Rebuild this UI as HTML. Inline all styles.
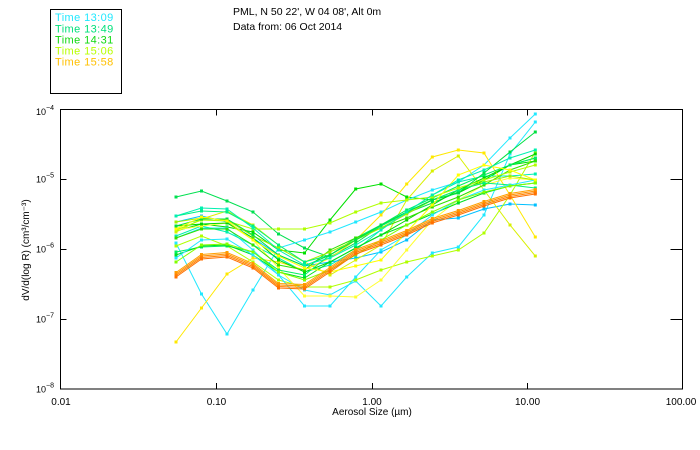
<!DOCTYPE html>
<html><head><meta charset="utf-8"><style>
html,body{margin:0;padding:0;background:#fff;}
svg{display:block;}
text{font-family:"Liberation Sans",sans-serif;}
</style></head><body>
<svg width="700" height="450" viewBox="0 0 700 450" xmlns="http://www.w3.org/2000/svg">
<rect width="700" height="450" fill="#fff"/>
<!-- legend -->
<rect x="50.5" y="9.5" width="71" height="84" fill="none" stroke="#000" stroke-width="1" shape-rendering="crispEdges"/>
<g font-size="11" letter-spacing="0.4">
<text x="55" y="21" fill="#20e8ff">Time 13:09</text>
<text x="55" y="32.3" fill="#00e07a">Time 13:49</text>
<text x="55" y="43.3" fill="#10d810">Time 14:31</text>
<text x="55" y="54.3" fill="#b8ff00">Time 15:06</text>
<text x="55" y="65.3" fill="#ffc000">Time 15:58</text>
</g>
<g font-size="10.5" fill="#000">
<text x="233" y="15">PML, N 50 22', W 04 08', Alt 0m</text>
<text x="233" y="30">Data from: 06 Oct 2014</text>
</g>
<!-- axes -->
<g stroke="#000" stroke-width="1" fill="none" shape-rendering="crispEdges">
<rect x="60.5" y="109.5" width="622" height="279.5"/>
<path d="M216.5 109.5v6M372.5 109.5v6M527.5 109.5v6M216.5 389v-6M372.5 389v-6M527.5 389v-6"/>
<path d="M60.5 179.5h6M60.5 249.5h6M60.5 319.5h6M682.5 179.5h-12M682.5 249.5h-12M682.5 319.5h-12"/>
</g>
<g font-size="10" fill="#000" text-anchor="middle">
<text x="61" y="405">0.01</text>
<text x="216.5" y="405">0.10</text>
<text x="372" y="405">1.00</text>
<text x="527.5" y="405">10.00</text>
<text x="681" y="405">100.00</text>
<text x="372" y="415">Aerosol Size (µm)</text>
</g>
<g font-size="9" fill="#000">
<text x="36" y="115">10<tspan font-size="7" dy="-5">−4</tspan></text>
<text x="36" y="182.5">10<tspan font-size="7" dy="-5">−5</tspan></text>
<text x="36" y="252.5">10<tspan font-size="7" dy="-5">−6</tspan></text>
<text x="36" y="322.5">10<tspan font-size="7" dy="-5">−7</tspan></text>
<text x="36" y="392.5">10<tspan font-size="7" dy="-5">−8</tspan></text>
</g>
<text transform="translate(29,250) rotate(-90)" font-size="10" text-anchor="middle" fill="#000">dV/d(log R) (cm³/cm⁻³)</text>
<g id="data" fill="none" stroke-width="1"></g>
</svg>
<script>
var X=[176,201.5,227,253,278.5,304.5,330,355.7,381,406.7,432.3,458.3,484,510,535.3];
var S=[
["#00e050",[197,191,201,212,234,248,257,243,226,213,203,192,180,165,158]],
["#00e000",[231,224,227,232,250,253,220,189,184,197,200,193,180,165,161]],
["#20e8ff",[243,294,334,290,248,240,232,222,212,200,190,182,165,138,114]],
["#20e8ff",[238,228,228,250,275,290,295,281,306,277,253,247,215,154,122]],
["#00f0b0",[236,226,232,245,258,272,265,250,230,212,195,182,176,176,174]],
["#00c0ff",[222,216,222,238,255,266,262,258,252,240,220,218,209,204,205]],
["#ffe800",[342,308,274,258,262,270,258,240,215,184,157,150,153,195,237]],
["#d8f000",[232,219,211,225,245,262,275,260,245,200,171,156,190,225,256]],
["#b0ff00",[246,236,246,262,280,287,287,280,270,262,256,250,233,195,152]],
["#ffff30",[230,226,223,240,268,296,296,297,280,250,220,200,185,178,180]],
["#00d800",[226,224,223,238,260,272,262,248,235,220,205,190,178,165,154]],
["#00f060",[252,247,246,252,270,275,255,238,225,210,198,186,175,165,158]],
["#30e000",[238,229,229,245,265,270,250,238,228,218,207,197,185,170,161]],
["#a0f000",[222,218,220,236,248,262,252,240,228,214,200,190,182,176,180]],
["#00f080",[216,211,212,226,245,262,255,240,226,212,200,190,183,185,188]],
["#00e020",[255,246,245,255,272,278,262,248,235,225,214,203,193,186,183]],
["#b0ff00",[230,220,221,229,229,229,223,212,203,200,197,188,180,172,165]],
["#00e040",[226,219,219,235,255,266,255,240,225,212,200,193,173,152,132]],
["#20e8ff",[258,240,239,255,275,306,306,277,250,235,215,200,190,185,180]],
["#ffff00",[229,217,221,240,256,268,272,266,260,232,205,175,165,170,180]],
["#00f0b0",[216,208,209,228,250,265,258,245,230,212,195,180,170,158,150]],
["#80ff00",[262,245,244,252,272,280,270,255,240,225,212,200,192,186,183]]
];
var base=[274,256,254,265,285,286,269,251,242,232,220,212,203,195,191];
var O=[["#ffa000",-1.5],["#ff9000",0],["#ff8000",1.5],["#ff7000",3]];
O.forEach(function(o){S.push([o[0],base.map(function(v){return v+o[1];}),3]);});
var g=document.getElementById('data'),h="";
S.forEach(function(s){
 var pts=s[1].map(function(y,i){return X[i]+","+y;}).join(" ");
 h+='<polyline points="'+pts+'" stroke="'+s[0]+'"/>';
 var m=s[2]||3;
 s[1].forEach(function(y,i){h+='<rect x="'+(X[i]-m/2)+'" y="'+(y-m/2)+'" width="'+m+'" height="'+m+'" fill="'+s[0]+'" stroke="none"/>';});
});
g.innerHTML=h;
</script>
</body></html>
